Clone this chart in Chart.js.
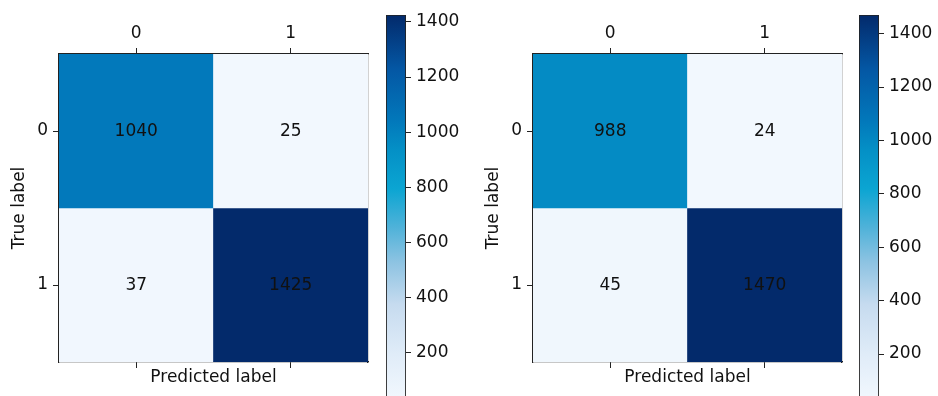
<!DOCTYPE html>
<html>
<head>
<meta charset="utf-8">
<script src="https://cdn.jsdelivr.net/npm/chart.js@4/dist/chart.umd.min.js"></script>
<style>
  html, body { margin: 0; padding: 0; background: #fff; overflow: hidden; width: 938px; height: 396px; position: relative; }
  canvas { position: absolute; top: 0; }
</style>
</head>
<body>
<canvas id="matrixA" width="380" height="396" style="left:0px"></canvas>
<canvas id="barA" width="80" height="405" style="left:380px"></canvas>
<canvas id="matrixB" width="380" height="396" style="left:474px"></canvas>
<canvas id="barB" width="85" height="405" style="left:853px"></canvas>
<script>
// Class labels on both axes
const predictedLabels = ['0', '1'];
const trueLabels = ['0', '1'];

// Confusion matrices (rows = true label, columns = predicted label)
const matrixA = [[1040, 25], [37, 1425]];
const matrixB = [[988, 24], [45, 1470]];

// Colour bar tick values
const colorbarTicks = [200, 400, 600, 800, 1000, 1200, 1400];

// Blue sequential palette: [position 0..1, colour]
const blueStops = [
  [0.00, [242, 248, 254]],
  [0.12, [224, 236, 248]],
  [0.25, [198, 219, 239]],
  [0.36, [141, 195, 226]],
  [0.45, [ 79, 178, 217]],
  [0.55, [ 11, 165, 210]],
  [0.65, [  4, 144, 198]],
  [0.73, [  2, 119, 186]],
  [0.86, [  4,  87, 164]],
  [1.00, [  3,  42, 107]]
];

function blues(t) {
  t = Math.max(0, Math.min(1, t));
  for (let i = 1; i < blueStops.length; i++) {
    const [p1, c1] = blueStops[i];
    const [p0, c0] = blueStops[i - 1];
    if (t <= p1) {
      const f = (t - p0) / (p1 - p0);
      const c = c0.map((v, k) => Math.round(v + (c1[k] - v) * f));
      return `rgb(${c[0]},${c[1]},${c[2]})`;
    }
  }
  const c = blueStops[blueStops.length - 1][1];
  return `rgb(${c[0]},${c[1]},${c[2]})`;
}

Chart.defaults.font.family = "'DejaVu Sans', sans-serif";
Chart.defaults.font.size = 17;
Chart.defaults.color = '#111';
Chart.defaults.animation = false;

const frameColor = '#222';
const tickFont = { size: 17 };

// Writes the count in the middle of each cell
const cellText = {
  id: 'cellText',
  afterDatasetsDraw(chart) {
    const ctx = chart.ctx;
    ctx.save();
    ctx.font = "17px 'DejaVu Sans', sans-serif";
    ctx.fillStyle = '#111';
    ctx.textAlign = 'center';
    ctx.textBaseline = 'middle';
    chart.data.datasets.forEach((ds, di) => {
      const meta = chart.getDatasetMeta(di);
      meta.data.forEach((el, i) => {
        const p = el.getProps(['x', 'y', 'base'], true);
        ctx.fillText(String(ds.counts[i]), p.x, (p.y + p.base) / 2 + 1);
      });
    });
    ctx.restore();
  }
};

function drawMatrix(id, matrix) {
  const flat = matrix.flat();
  const vmin = Math.min(...flat), vmax = Math.max(...flat);
  const datasets = trueLabels.map((lab, r) => ({
    label: 'True ' + lab,
    data: predictedLabels.map(() => [r - 0.5, r + 0.5]),
    counts: matrix[r],
    backgroundColor: matrix[r].map(v => blues((v - vmin) / (vmax - vmin))),
    borderWidth: 0,
    barPercentage: 1,
    categoryPercentage: 1,
    grouped: false
  }));
  return new Chart(document.getElementById(id), {
    type: 'bar',
    data: { labels: predictedLabels, datasets },
    plugins: [cellText],
    options: {
      responsive: false,
      layout: { padding: { left: 0, top: 0, right: 12, bottom: 0 } },
      plugins: { legend: { display: false }, tooltip: { enabled: false } },
      scales: {
        x: {
          type: 'category', position: 'top', offset: true,
          grid: { offset: false, drawOnChartArea: false, tickLength: 6, color: frameColor, tickWidth: 1 },
          border: { display: true, color: frameColor, width: 1.2 },
          ticks: { font: tickFont, padding: 4, maxRotation: 0, color: '#111' },
          afterFit: s => { s.height = 54; }
        },
        x2: {
          type: 'category', position: 'bottom', offset: true,
          grid: { offset: false, drawOnChartArea: false, tickLength: 6, color: frameColor, tickWidth: 1 },
          border: { display: true, color: frameColor, width: 1.2 },
          ticks: { display: false },
          title: { display: true, text: 'Predicted label', font: tickFont, color: '#111', padding: { top: 0, bottom: 8 } },
          afterFit: s => { s.height = 34; }
        },
        y: {
          type: 'linear', position: 'left', reverse: true, min: -0.5, max: 1.5,
          afterBuildTicks: s => { s.ticks = trueLabels.map((l, i) => ({ value: i })); },
          grid: { drawOnChartArea: false, tickLength: 6, color: frameColor, tickWidth: 1 },
          border: { display: true, color: frameColor, width: 1.2 },
          ticks: { font: tickFont, padding: 5, color: '#111', callback: v => trueLabels[v] },
          title: { display: true, text: 'True label', font: tickFont, color: '#111', padding: { top: 9, bottom: 0 } },
          afterFit: s => { s.width = 59; }
        },
        y2: {
          type: 'linear', position: 'right', min: -0.5, max: 1.5,
          grid: { drawOnChartArea: false, drawTicks: false },
          border: { display: true, color: frameColor, width: 1.2 },
          ticks: { display: false },
          afterFit: s => { s.width = 0; }
        }
      }
    }
  });
}

function drawColorbar(id, matrix, axisWidth) {
  const flat = matrix.flat();
  const vmin = Math.min(...flat), vmax = Math.max(...flat);
  return new Chart(document.getElementById(id), {
    type: 'bar',
    data: {
      labels: [''],
      datasets: [{
        data: [[vmin, vmax]],
        backgroundColor: (c) => {
          const chart = c.chart;
          if (!chart.chartArea) return null;
          const ys = chart.scales.y;
          const g = chart.ctx.createLinearGradient(0, ys.getPixelForValue(vmin), 0, ys.getPixelForValue(vmax));
          blueStops.forEach(([p, col]) => g.addColorStop(p, `rgb(${col[0]},${col[1]},${col[2]})`));
          return g;
        },
        borderColor: frameColor,
        borderWidth: 1.2,
        borderSkipped: false,
        barPercentage: 1,
        categoryPercentage: 1
      }]
    },
    options: {
      responsive: false,
      layout: { padding: { left: 6, top: 15, right: 0, bottom: 4 } },
      plugins: { legend: { display: false }, tooltip: { enabled: false } },
      scales: {
        x: { display: false },
        y: {
          type: 'linear', position: 'right', min: vmin, max: vmax,
          afterBuildTicks: s => { s.ticks = colorbarTicks.filter(v => v >= vmin && v <= vmax).map(v => ({ value: v })); },
          grid: { drawOnChartArea: false, tickLength: 5, color: frameColor, tickWidth: 1 },
          border: { display: false },
          ticks: { font: tickFont, padding: 5, color: '#111', callback: v => String(v) },
          afterFit: s => { s.width = axisWidth; s.paddingTop = 0; s.paddingBottom = 0; }
        }
      }
    }
  });
}

drawMatrix('matrixA', matrixA);
drawColorbar('barA', matrixA, 54);
drawMatrix('matrixB', matrixB);
drawColorbar('barB', matrixB, 59);
</script>
</body>
</html>
